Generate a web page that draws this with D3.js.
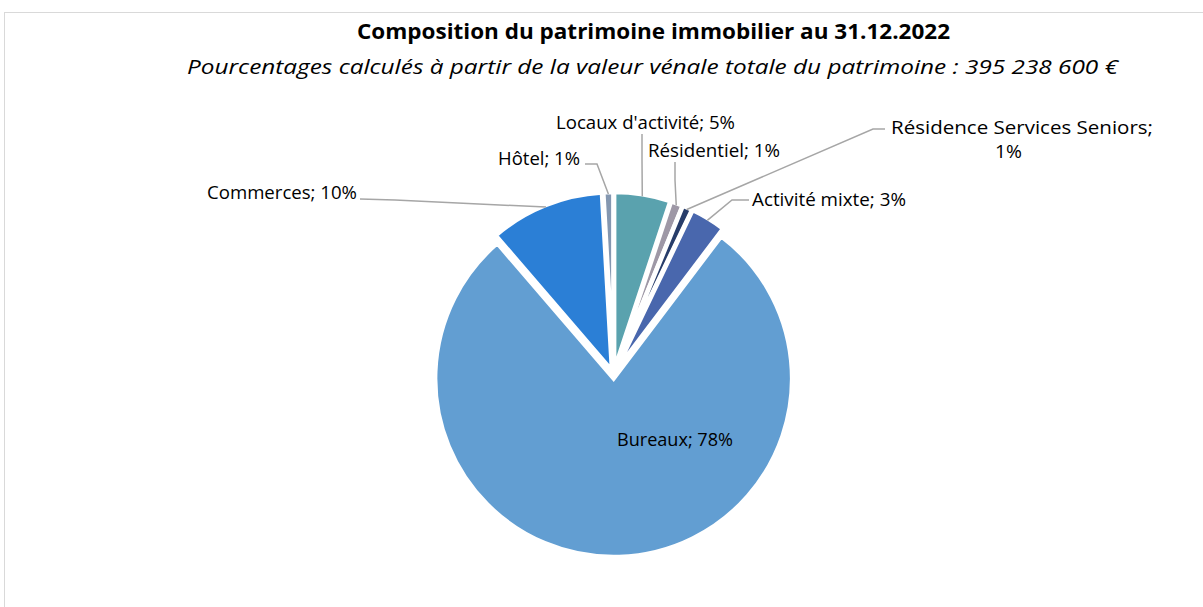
<!DOCTYPE html>
<html>
<head>
<meta charset="utf-8">
<script src="https://cdn.jsdelivr.net/npm/d3@7"></script>
<style>
  html, body { margin: 0; padding: 0; background: #ffffff; }
  svg { display: block; }
  text { font-family: "Open Sans", Lato, "Noto Sans", sans-serif; fill: #000; }
</style>
</head>
<body>
<svg id="chart" width="1203" height="607"></svg>
<script>
// ---- data ----
const categories = ["Locaux d'activité", "Résidentiel", "Résidence Services Seniors", "Activité mixte", "Bureaux", "Commerces", "Hôtel"];
const values = [5.1, 1.1, 0.9, 3.2, 78.4, 10.4, 0.9];
const colors = ["#5AA2AE", "#9E98A6", "#283D6A", "#4967AD", "#629ED2", "#2B7FD6", "#8497B0"];
const titleText = "Composition du patrimoine immobilier au 31.12.2022";
const subtitleText = "Pourcentages calculés à partir de la valeur vénale totale du patrimoine : 395 238 600 €";

// ---- label layout (positions / widths only) ----
const labelLayout = [
  { lines: [{ x: 645.5, y: 129, w: 179 }], leader: [[642, 134], [642, 160]] },
  { lines: [{ x: 714, y: 157, w: 132 }], leader: [[675, 162], [675, 180]] },
  { lines: [{ x: 1022, y: 134, w: 262 }, { x: 1008.5, y: 158, w: 27 }], leader: [[885, 129], [873, 129]] },
  { lines: [{ x: 829, y: 206, w: 154 }], leader: [[749, 200], [732, 200]] },
  { lines: [{ x: 675, y: 446, w: 116 }], leader: null },
  { lines: [{ x: 282, y: 199, w: 150 }], leader: [[360, 199], [395, 200]] },
  { lines: [{ x: 539, y: 165, w: 82 }], leader: [[585, 164], [597, 164]] }
];

const svg = d3.select("#chart");

// frame
svg.append("rect")
  .attr("x", 4.5).attr("y", 12.5)
  .attr("width", 1230).attr("height", 640)
  .attr("fill", "none").attr("stroke", "#D9D9D9").attr("stroke-width", 1);

// titles
svg.append("text")
  .attr("x", 653.5).attr("y", 39)
  .attr("text-anchor", "middle")
  .attr("font-weight", "bold").attr("font-size", 20.5)
  .attr("textLength", 593).attr("lengthAdjust", "spacingAndGlyphs")
  .text(titleText);
svg.append("text")
  .attr("x", 652.5).attr("y", 74)
  .attr("text-anchor", "middle")
  .attr("font-style", "italic").attr("font-size", 20.5)
  .attr("textLength", 931).attr("lengthAdjust", "spacingAndGlyphs")
  .text(subtitleText);

// pie
const cx = 613.5, cy = 374.5, R = 178.5, explode = 4;
const pie = d3.pie().sort(null).value(d => d).startAngle(0).endAngle(2 * Math.PI);
const arcs = pie(values);
const arc = d3.arc().innerRadius(0).outerRadius(R);

const g = svg.append("g").attr("transform", `translate(${cx},${cy})`);
g.selectAll("path.slice")
  .data(arcs)
  .join("path")
  .attr("class", "slice")
  .attr("d", arc)
  .attr("fill", (d, i) => colors[i])
  .attr("stroke", "#ffffff")
  .attr("stroke-width", 4.5)
  .attr("stroke-linejoin", "miter")
  .attr("transform", d => {
    const a = (d.startAngle + d.endAngle) / 2;
    return `translate(${explode * Math.sin(a)},${-explode * Math.cos(a)})`;
  });

// leader lines
const pctFmt = v => Math.round(v) + "%";
arcs.forEach((d, i) => {
  const lay = labelLayout[i];
  if (lay.leader) {
    const a = (d.startAngle + d.endAngle) / 2;
    const rr = R - 2;
    const ex = cx + (rr + explode) * Math.sin(a);
    const ey = cy - (rr + explode) * Math.cos(a);
    const pts = lay.leader.concat([[ex, ey]]);
    svg.append("path")
      .attr("d", d3.line()(pts))
      .attr("fill", "none")
      .attr("stroke", "#A6A6A6")
      .attr("stroke-width", 1.5);
  }
});

// labels
arcs.forEach((d, i) => {
  const lay = labelLayout[i];
  const parts = lay.lines.length === 1
    ? [categories[i] + "; " + pctFmt(values[i])]
    : [categories[i] + ";", pctFmt(values[i])];
  lay.lines.forEach((ln, k) => {
    svg.append("text")
      .attr("x", ln.x).attr("y", ln.y)
      .attr("text-anchor", "middle")
      .attr("font-size", 17.5)
      .attr("textLength", ln.w).attr("lengthAdjust", "spacingAndGlyphs")
      .text(parts[k]);
  });
});
</script>
</body>
</html>
